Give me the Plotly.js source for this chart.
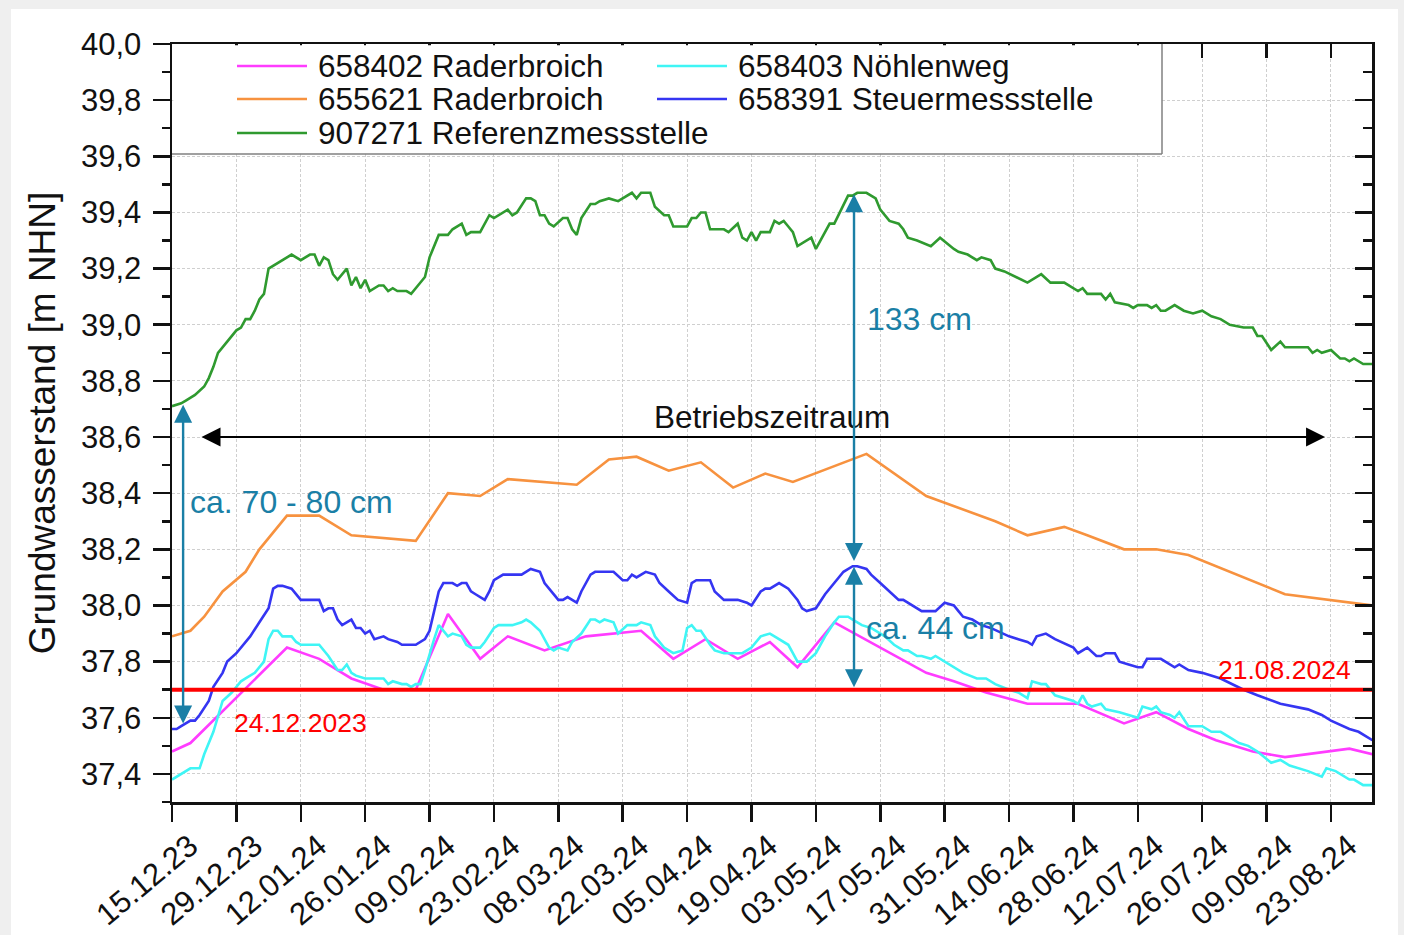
<!DOCTYPE html>
<html><head><meta charset="utf-8">
<script src="https://cdn.plot.ly/plotly-3.0.1.min.js"></script>
<style>
html,body{margin:0;padding:0;background:#efefef;width:1404px;height:935px;overflow:hidden;}
#chart{position:absolute;left:11px;top:9px;width:1387px;height:926px;background:#fff;}
</style></head><body><div id="chart"></div>
<script>
// ---- Series names ----
const seriesNames = ['658402 Raderbroich','658403 Nöhlenweg','655621 Raderbroich','658391 Steuermessstelle','907271 Referenzmessstelle'];
const seriesColors = ['#ff3cff','#3ff5f5','#f7923f','#3535f2','#2f9a2f'];

// ---- 658402 Raderbroich (magenta) ----
const magentaDates = ['2023-12-15','2023-12-19','2024-01-09','2024-01-16','2024-01-20','2024-01-23','2024-01-30','2024-02-06','2024-02-13','2024-02-20','2024-02-26','2024-03-05','2024-03-14','2024-03-26','2024-04-02','2024-04-09','2024-04-16','2024-04-23','2024-04-29','2024-05-07','2024-05-27','2024-06-02','2024-06-09','2024-06-18','2024-06-29','2024-07-09','2024-07-16','2024-07-23','2024-07-29','2024-08-06','2024-08-13','2024-08-27','2024-09-01'];
const magentaValues = [37.48,37.51,37.85,37.81,37.77,37.74,37.70,37.70,37.97,37.81,37.89,37.84,37.89,37.91,37.81,37.88,37.81,37.87,37.78,37.94,37.76,37.73,37.69,37.65,37.65,37.58,37.62,37.56,37.52,37.48,37.46,37.49,37.47];

// ---- 658403 Nöhlenweg (cyan) ----
const cyanDates = ['2023-12-15','2023-12-17','2023-12-19','2023-12-21','2023-12-22','2023-12-24','2023-12-26','2023-12-28','2023-12-30','2023-12-31','2024-01-02','2024-01-04','2024-01-05','2024-01-06','2024-01-07','2024-01-08','2024-01-10','2024-01-11','2024-01-12','2024-01-16','2024-01-17','2024-01-18','2024-01-20','2024-01-21','2024-01-22','2024-01-23','2024-01-24','2024-01-26','2024-01-30','2024-01-31','2024-02-01','2024-02-03','2024-02-04','2024-02-05','2024-02-06','2024-02-07','2024-02-08','2024-02-09','2024-02-10','2024-02-11','2024-02-12','2024-02-13','2024-02-14','2024-02-16','2024-02-17','2024-02-18','2024-02-20','2024-02-21','2024-02-23','2024-02-24','2024-02-27','2024-02-29','2024-03-01','2024-03-02','2024-03-04','2024-03-05','2024-03-06','2024-03-07','2024-03-08','2024-03-10','2024-03-11','2024-03-13','2024-03-15','2024-03-16','2024-03-17','2024-03-18','2024-03-20','2024-03-21','2024-03-23','2024-03-25','2024-03-26','2024-03-28','2024-03-29','2024-03-31','2024-04-02','2024-04-04','2024-04-05','2024-04-06','2024-04-07','2024-04-08','2024-04-10','2024-04-11','2024-04-13','2024-04-17','2024-04-19','2024-04-21','2024-04-23','2024-04-24','2024-04-27','2024-04-28','2024-04-29','2024-05-01','2024-05-03','2024-05-05','2024-05-07','2024-05-08','2024-05-10','2024-05-11','2024-05-13','2024-05-15','2024-05-18','2024-05-20','2024-05-22','2024-05-23','2024-05-25','2024-05-26','2024-05-28','2024-05-29','2024-05-31','2024-06-02','2024-06-04','2024-06-07','2024-06-09','2024-06-11','2024-06-14','2024-06-16','2024-06-17','2024-06-18','2024-06-19','2024-06-21','2024-06-22','2024-06-24','2024-06-28','2024-06-29','2024-06-30','2024-07-01','2024-07-02','2024-07-04','2024-07-05','2024-07-08','2024-07-10','2024-07-12','2024-07-13','2024-07-15','2024-07-16','2024-07-17','2024-07-19','2024-07-20','2024-07-21','2024-07-23','2024-07-24','2024-07-26','2024-07-28','2024-07-30','2024-08-01','2024-08-03','2024-08-05','2024-08-07','2024-08-10','2024-08-12','2024-08-14','2024-08-18','2024-08-21','2024-08-22','2024-08-24','2024-08-27','2024-08-28','2024-08-30','2024-09-01'];
const cyanValues = [37.38,37.40,37.42,37.42,37.47,37.55,37.66,37.69,37.73,37.74,37.76,37.80,37.88,37.91,37.91,37.89,37.89,37.87,37.86,37.86,37.84,37.82,37.77,37.77,37.79,37.76,37.75,37.74,37.74,37.72,37.73,37.72,37.72,37.71,37.72,37.72,37.77,37.83,37.88,37.93,37.91,37.89,37.90,37.89,37.86,37.85,37.85,37.87,37.92,37.93,37.93,37.94,37.95,37.94,37.91,37.88,37.85,37.84,37.85,37.84,37.87,37.90,37.95,37.95,37.94,37.95,37.94,37.90,37.93,37.93,37.94,37.93,37.89,37.85,37.83,37.84,37.92,37.93,37.91,37.91,37.86,37.84,37.83,37.83,37.85,37.89,37.90,37.89,37.86,37.83,37.80,37.80,37.83,37.89,37.94,37.96,37.96,37.95,37.93,37.92,37.89,37.86,37.84,37.84,37.82,37.82,37.81,37.82,37.80,37.78,37.76,37.74,37.74,37.72,37.70,37.69,37.68,37.67,37.73,37.72,37.72,37.68,37.66,37.65,37.68,37.65,37.64,37.65,37.63,37.62,37.61,37.60,37.64,37.63,37.64,37.62,37.61,37.60,37.62,37.57,37.57,37.57,37.55,37.55,37.53,37.51,37.50,37.48,37.44,37.45,37.43,37.41,37.39,37.42,37.41,37.38,37.38,37.36,37.36];

// ---- 655621 Raderbroich (orange) ----
const orangeDates = ['2023-12-15','2023-12-19','2023-12-22','2023-12-26','2023-12-31','2024-01-03','2024-01-09','2024-01-16','2024-01-23','2024-02-06','2024-02-13','2024-02-20','2024-02-26','2024-03-12','2024-03-19','2024-03-25','2024-04-01','2024-04-08','2024-04-15','2024-04-22','2024-04-28','2024-05-14','2024-05-27','2024-06-11','2024-06-18','2024-06-26','2024-07-01','2024-07-09','2024-07-16','2024-07-23','2024-08-13','2024-09-01'];
const orangeValues = [37.89,37.91,37.96,38.05,38.12,38.20,38.32,38.32,38.25,38.23,38.40,38.39,38.45,38.43,38.52,38.53,38.48,38.51,38.42,38.47,38.44,38.54,38.39,38.30,38.25,38.28,38.25,38.20,38.20,38.18,38.04,38.00];

// ---- 658391 Steuermessstelle (blue) ----
const blueDates = ['2023-12-15','2023-12-16','2023-12-17','2023-12-19','2023-12-20','2023-12-21','2023-12-23','2023-12-24','2023-12-26','2023-12-27','2023-12-29','2023-12-31','2024-01-01','2024-01-03','2024-01-05','2024-01-06','2024-01-07','2024-01-08','2024-01-10','2024-01-12','2024-01-16','2024-01-17','2024-01-18','2024-01-19','2024-01-20','2024-01-21','2024-01-22','2024-01-23','2024-01-24','2024-01-25','2024-01-26','2024-01-27','2024-01-28','2024-01-30','2024-01-31','2024-02-02','2024-02-03','2024-02-06','2024-02-08','2024-02-09','2024-02-10','2024-02-11','2024-02-12','2024-02-14','2024-02-15','2024-02-16','2024-02-17','2024-02-18','2024-02-19','2024-02-20','2024-02-21','2024-02-22','2024-02-23','2024-02-25','2024-02-29','2024-03-02','2024-03-04','2024-03-05','2024-03-08','2024-03-09','2024-03-10','2024-03-12','2024-03-13','2024-03-15','2024-03-16','2024-03-20','2024-03-22','2024-03-23','2024-03-24','2024-03-25','2024-03-27','2024-03-29','2024-03-30','2024-04-01','2024-04-03','2024-04-05','2024-04-06','2024-04-07','2024-04-08','2024-04-10','2024-04-11','2024-04-13','2024-04-14','2024-04-16','2024-04-18','2024-04-19','2024-04-21','2024-04-22','2024-04-23','2024-04-25','2024-04-26','2024-04-27','2024-04-29','2024-04-30','2024-05-01','2024-05-03','2024-05-05','2024-05-07','2024-05-09','2024-05-11','2024-05-12','2024-05-14','2024-05-15','2024-05-17','2024-05-19','2024-05-21','2024-05-22','2024-05-24','2024-05-26','2024-05-27','2024-05-29','2024-05-31','2024-06-02','2024-06-03','2024-06-04','2024-06-06','2024-06-08','2024-06-10','2024-06-14','2024-06-16','2024-06-18','2024-06-19','2024-06-20','2024-06-22','2024-06-24','2024-06-28','2024-06-29','2024-07-01','2024-07-03','2024-07-04','2024-07-05','2024-07-07','2024-07-08','2024-07-10','2024-07-12','2024-07-13','2024-07-14','2024-07-17','2024-07-20','2024-07-21','2024-07-23','2024-07-26','2024-07-28','2024-07-30','2024-08-04','2024-08-07','2024-08-12','2024-08-15','2024-08-18','2024-08-21','2024-08-23','2024-08-27','2024-08-29','2024-09-01'];
const blueValues = [37.56,37.56,37.57,37.59,37.59,37.61,37.66,37.71,37.76,37.80,37.83,37.87,37.89,37.94,37.99,38.06,38.07,38.07,38.06,38.02,38.02,37.98,37.99,37.99,37.95,37.93,37.94,37.95,37.92,37.92,37.90,37.91,37.88,37.89,37.88,37.87,37.86,37.86,37.88,37.91,37.98,38.05,38.08,38.08,38.07,38.08,38.08,38.05,38.04,38.03,38.02,38.05,38.09,38.11,38.11,38.13,38.12,38.08,38.02,38.02,38.03,38.01,38.05,38.11,38.12,38.12,38.09,38.09,38.11,38.10,38.12,38.11,38.08,38.05,38.02,38.01,38.08,38.09,38.09,38.09,38.05,38.02,38.02,38.02,38.01,38.00,38.05,38.06,38.06,38.08,38.07,38.06,38.02,37.99,37.98,37.99,38.04,38.08,38.12,38.14,38.14,38.13,38.11,38.08,38.05,38.02,38.02,38.00,37.98,37.98,37.98,38.01,38.00,37.98,37.96,37.95,37.93,37.92,37.89,37.88,37.87,37.86,37.89,37.90,37.88,37.85,37.83,37.85,37.82,37.82,37.83,37.83,37.80,37.79,37.78,37.78,37.81,37.81,37.78,37.79,37.77,37.76,37.75,37.74,37.70,37.68,37.65,37.64,37.63,37.61,37.59,37.56,37.55,37.52];

// ---- 907271 Referenzmessstelle (green) ----
const greenDates = ['2023-12-15','2023-12-17','2023-12-18','2023-12-20','2023-12-22','2023-12-23','2023-12-24','2023-12-25','2023-12-27','2023-12-29','2023-12-30','2023-12-31','2024-01-01','2024-01-02','2024-01-03','2024-01-04','2024-01-05','2024-01-10','2024-01-12','2024-01-14','2024-01-15','2024-01-16','2024-01-17','2024-01-18','2024-01-19','2024-01-20','2024-01-22','2024-01-23','2024-01-24','2024-01-25','2024-01-26','2024-01-27','2024-01-29','2024-01-30','2024-01-31','2024-02-01','2024-02-02','2024-02-04','2024-02-05','2024-02-06','2024-02-07','2024-02-08','2024-02-09','2024-02-11','2024-02-13','2024-02-14','2024-02-16','2024-02-17','2024-02-18','2024-02-20','2024-02-22','2024-02-23','2024-02-26','2024-02-27','2024-02-28','2024-03-01','2024-03-02','2024-03-03','2024-03-04','2024-03-05','2024-03-06','2024-03-07','2024-03-09','2024-03-10','2024-03-11','2024-03-12','2024-03-13','2024-03-15','2024-03-16','2024-03-17','2024-03-19','2024-03-21','2024-03-24','2024-03-25','2024-03-26','2024-03-28','2024-03-29','2024-03-31','2024-04-01','2024-04-02','2024-04-05','2024-04-06','2024-04-07','2024-04-08','2024-04-09','2024-04-10','2024-04-13','2024-04-14','2024-04-16','2024-04-17','2024-04-18','2024-04-19','2024-04-20','2024-04-21','2024-04-23','2024-04-24','2024-04-25','2024-04-26','2024-04-27','2024-04-28','2024-04-29','2024-04-30','2024-05-02','2024-05-03','2024-05-04','2024-05-06','2024-05-07','2024-05-09','2024-05-10','2024-05-11','2024-05-12','2024-05-14','2024-05-16','2024-05-17','2024-05-19','2024-05-21','2024-05-22','2024-05-23','2024-05-25','2024-05-28','2024-05-30','2024-06-02','2024-06-03','2024-06-05','2024-06-07','2024-06-08','2024-06-10','2024-06-11','2024-06-13','2024-06-18','2024-06-19','2024-06-21','2024-06-23','2024-06-26','2024-06-29','2024-06-30','2024-07-01','2024-07-04','2024-07-05','2024-07-06','2024-07-07','2024-07-10','2024-07-11','2024-07-12','2024-07-14','2024-07-15','2024-07-16','2024-07-17','2024-07-18','2024-07-20','2024-07-22','2024-07-24','2024-07-26','2024-07-28','2024-07-30','2024-08-01','2024-08-04','2024-08-06','2024-08-07','2024-08-08','2024-08-10','2024-08-12','2024-08-13','2024-08-18','2024-08-19','2024-08-20','2024-08-21','2024-08-23','2024-08-25','2024-08-26','2024-08-27','2024-08-28','2024-08-30','2024-09-01'];
const greenValues = [38.71,38.72,38.73,38.75,38.78,38.81,38.85,38.90,38.94,38.98,38.99,39.02,39.02,39.05,39.09,39.11,39.20,39.25,39.23,39.25,39.25,39.21,39.24,39.23,39.18,39.16,39.20,39.14,39.17,39.13,39.16,39.12,39.14,39.14,39.12,39.13,39.12,39.12,39.11,39.13,39.15,39.17,39.24,39.32,39.32,39.34,39.36,39.32,39.33,39.33,39.39,39.38,39.41,39.39,39.40,39.45,39.45,39.44,39.39,39.39,39.36,39.35,39.38,39.38,39.34,39.32,39.38,39.43,39.43,39.44,39.45,39.44,39.47,39.45,39.47,39.47,39.42,39.39,39.39,39.35,39.35,39.38,39.38,39.40,39.40,39.34,39.34,39.33,39.36,39.31,39.30,39.33,39.30,39.33,39.33,39.37,39.36,39.37,39.35,39.33,39.28,39.29,39.31,39.27,39.30,39.36,39.36,39.43,39.46,39.46,39.47,39.47,39.45,39.41,39.37,39.36,39.34,39.31,39.30,39.28,39.31,39.27,39.26,39.25,39.23,39.24,39.23,39.20,39.19,39.15,39.16,39.18,39.15,39.15,39.12,39.13,39.11,39.11,39.09,39.11,39.08,39.07,39.06,39.07,39.07,39.06,39.07,39.05,39.05,39.07,39.05,39.04,39.05,39.03,39.02,39.00,38.99,38.99,38.96,38.96,38.91,38.94,38.92,38.92,38.90,38.91,38.90,38.91,38.88,38.88,38.87,38.88,38.86,38.86];

// ---- Threshold line (37,70 m NHN) ----
const thresholdDates = ['2023-12-15','2024-09-01'];
const thresholdValues = [37.70, 37.70];

// ---- Axes ----
const xRange = ['2023-12-15','2024-08-31 22:00'];
const yRange = [37.3, 40.0];
const yTitle = 'Grundwasserstand [m NHN]';

const FONT = 'Liberation Sans, Arial, sans-serif';
const TEAL = '#1a7fa6';

const seriesX = [magentaDates, cyanDates, orangeDates, blueDates, greenDates];
const seriesY = [magentaValues, cyanValues, orangeValues, blueValues, greenValues];

const traces = seriesNames.map((n,i)=>({
  type:'scatter', mode:'lines', name:n, x:seriesX[i], y:seriesY[i],
  line:{color:seriesColors[i], width:2.6}, showlegend:false, hoverinfo:'skip'
}));
traces.push({type:'scatter',mode:'lines',x:thresholdDates,y:thresholdValues,line:{color:'#ff0000',width:4},showlegend:false,hoverinfo:'skip'});
// empty helper traces so that the mirrored top/right axes are drawn
traces.push({type:'scatter',mode:'lines',x:[],y:[],xaxis:'x2',yaxis:'y',showlegend:false,hoverinfo:'skip'});
traces.push({type:'scatter',mode:'lines',x:[],y:[],xaxis:'x',yaxis:'y2',showlegend:false,hoverinfo:'skip'});

// ---- manual legend (2 columns like the original) ----
function px2paperX(p){return (p-172)/1200;}
function px2paperY(p){return 1-(p-44)/758;}
const legendSlots = [[237,66],[657,66],[237,99],[657,99],[237,133]];
const legendOrder = [0,1,2,3,4];
const LX0 = px2paperX(173.3), LX1 = px2paperX(1162), LY0 = px2paperY(154), LY1 = px2paperY(45.3);
const shapes = [
  {type:'rect',xref:'paper',yref:'paper',x0:LX0,x1:LX1,y0:LY0,y1:LY1,fillcolor:'#ffffff',line:{width:0},layer:'above'},
  {type:'line',xref:'paper',yref:'paper',x0:LX1,x1:LX1,y0:LY0,y1:1,line:{color:'#808080',width:1.5},layer:'above'},
  {type:'line',xref:'paper',yref:'paper',x0:0,x1:LX1,y0:LY0,y1:LY0,line:{color:'#808080',width:1.5},layer:'above'}
];
const annotations = [];
legendOrder.forEach((si,k)=>{
  const [lx,ly]=legendSlots[k];
  shapes.push({type:'line',xref:'paper',yref:'paper',x0:px2paperX(lx),x1:px2paperX(lx+70),y0:px2paperY(ly),y1:px2paperY(ly),line:{color:seriesColors[si],width:2.6},layer:'above'});
  annotations.push({xref:'paper',yref:'paper',x:px2paperX(lx+79),y:px2paperY(ly),xanchor:'left',yanchor:'middle',showarrow:false,text:seriesNames[si],font:{family:FONT,size:31.5,color:'#111'}});
});

// ---- arrows & labels ----
annotations.push(
  {x:'2024-08-21 17:00',y:38.6,ax:'2023-12-21 02:00',ay:38.6,axref:'x',ayref:'y',xref:'x',yref:'y',text:'',showarrow:true,arrowside:'end+start',arrowhead:2,startarrowhead:2,arrowsize:1.9,startarrowsize:1.9,arrowwidth:2,arrowcolor:'#000',standoff:0,startstandoff:0},
  {x:'2024-04-23 10:00',y:38.673,xref:'x',yref:'y',text:'Betriebszeitraum',showarrow:false,font:{family:FONT,size:31.5,color:'#111'}},
  {x:'2023-12-17 10:00',y:37.58,ax:'2023-12-17 10:00',ay:38.72,axref:'x',ayref:'y',xref:'x',yref:'y',text:'',showarrow:true,arrowside:'end+start',arrowhead:2,startarrowhead:2,arrowsize:1.5,startarrowsize:1.5,arrowwidth:2.4,arrowcolor:TEAL,standoff:0,startstandoff:0},
  {x:'2024-05-11 07:00',y:38.158,ax:'2024-05-11 07:00',ay:39.47,axref:'x',ayref:'y',xref:'x',yref:'y',text:'',showarrow:true,arrowside:'end+start',arrowhead:2,startarrowhead:2,arrowsize:1.5,startarrowsize:1.5,arrowwidth:2.4,arrowcolor:TEAL,standoff:0,startstandoff:0},
  {x:'2024-05-11 07:00',y:37.709,ax:'2024-05-11 07:00',ay:38.143,axref:'x',ayref:'y',xref:'x',yref:'y',text:'',showarrow:true,arrowside:'end+start',arrowhead:2,startarrowhead:2,arrowsize:1.5,startarrowsize:1.5,arrowwidth:2.4,arrowcolor:TEAL,standoff:0,startstandoff:0},
  {x:'2023-12-18 12:00',y:38.37,xref:'x',yref:'y',xanchor:'left',yanchor:'middle',text:'ca. 70 - 80 cm',showarrow:false,font:{family:FONT,size:32,color:TEAL}},
  {x:'2024-05-13 14:00',y:39.02,xref:'x',yref:'y',xanchor:'left',yanchor:'middle',text:'133 cm',showarrow:false,font:{family:FONT,size:32,color:TEAL}},
  {x:'2024-05-13 12:00',y:37.92,xref:'x',yref:'y',xanchor:'left',yanchor:'middle',text:'ca. 44 cm',showarrow:false,font:{family:FONT,size:32,color:TEAL}},
  {x:'2023-12-28 00:00',y:37.58,xref:'x',yref:'y',xanchor:'left',yanchor:'middle',text:'24.12.2023',showarrow:false,font:{family:FONT,size:26.5,color:'#ff0000'}},
  {x:'2024-07-29 00:00',y:37.77,xref:'x',yref:'y',xanchor:'left',yanchor:'middle',text:'21.08.2024',showarrow:false,font:{family:FONT,size:26.5,color:'#ff0000'}}
);

const DAY = 86400000;
const layout = {
  width:1387, height:926,
  margin:{l:161,r:26,t:35,b:133},
  paper_bgcolor:'#ffffff', plot_bgcolor:'#ffffff',
  separators:',.',
  showlegend:false,
  font:{family:FONT,color:'#111'},
  xaxis:{type:'date',range:xRange,tick0:'2023-12-15',dtick:14*DAY,tickformat:'%d.%m.%y',tickangle:-40,
    ticks:'outside',ticklen:17,tickwidth:2.5,tickcolor:'#111',showline:true,linewidth:2.5,linecolor:'#111',
    showgrid:true,gridcolor:'#cfcfcf',griddash:'3px,2px',gridwidth:1,zeroline:false,
    ticklabelshift:18,ticklabelstandoff:-6,
    tickfont:{family:FONT,size:31,color:'#111'}},
  xaxis2:{type:'date',overlaying:'x',side:'top',anchor:'y',range:xRange,tick0:'2023-12-15',dtick:14*DAY,
    ticks:'inside',ticklen:14,tickwidth:2.5,tickcolor:'#111',showline:true,linewidth:2.5,linecolor:'#111',
    showgrid:false,showticklabels:false,zeroline:false},
  yaxis:{range:yRange,tick0:37.4,dtick:0.2,tickformat:'.1f',ticks:'outside',ticklen:17,tickwidth:2.5,tickcolor:'#111',
    minor:{dtick:0.1,tick0:37.4,ticks:'outside',ticklen:8,tickwidth:2.5,tickcolor:'#111',showgrid:false},
    showline:true,linewidth:2.5,linecolor:'#111',showgrid:true,gridcolor:'#cfcfcf',griddash:'3px,2px',gridwidth:1,zeroline:false,
    ticklabelstandoff:5,
    tickfont:{family:FONT,size:31,color:'#111'},
    title:{text:yTitle,font:{family:FONT,size:37,color:'#111'},standoff:14}},
  yaxis2:{overlaying:'y',side:'right',anchor:'x',range:yRange,tick0:37.4,dtick:0.2,ticks:'inside',ticklen:17,tickwidth:2.5,tickcolor:'#111',
    minor:{dtick:0.1,tick0:37.4,ticks:'inside',ticklen:9,tickwidth:2.5,tickcolor:'#111',showgrid:false},
    showline:true,linewidth:2.5,linecolor:'#111',showgrid:false,showticklabels:false,zeroline:false},
  shapes:shapes,
  annotations:annotations
};
Plotly.newPlot('chart', traces, layout, {displayModeBar:false, staticPlot:true});
</script></body></html>
